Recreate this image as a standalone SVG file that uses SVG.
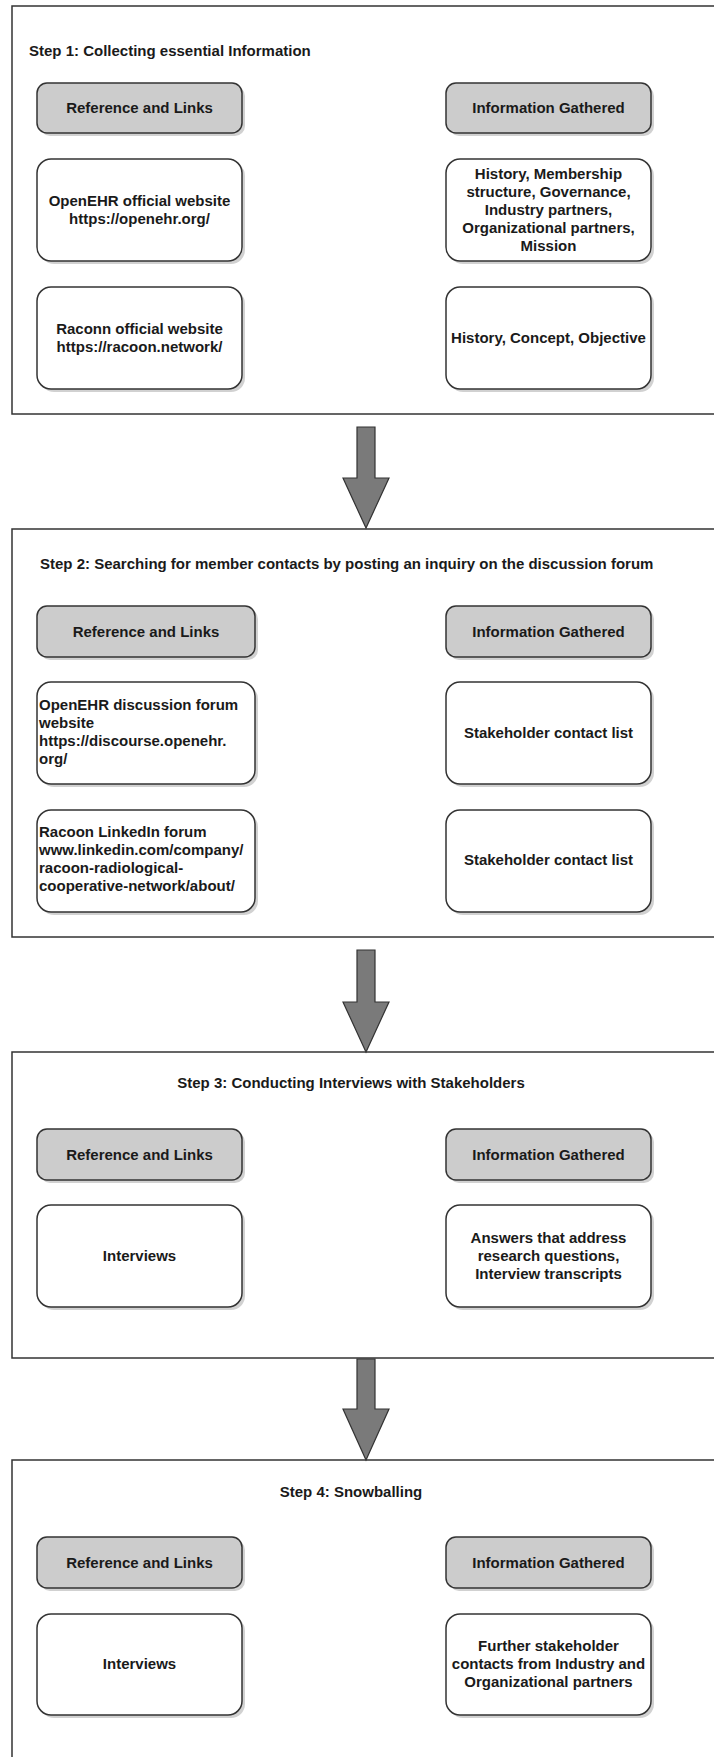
<svg xmlns="http://www.w3.org/2000/svg" width="714" height="1757" viewBox="0 0 714 1757">
<style>
text{font-family:"Liberation Sans",Arial,sans-serif;font-size:15px;font-weight:bold;fill:#1a1a1a}
.c{text-anchor:middle}
.step{fill:#fff;stroke:#333;stroke-width:1.5}
.hd{fill:#cccccc;stroke:#333;stroke-width:1.5}
.bx{fill:#fff;stroke:#333;stroke-width:1.5}
.sh{fill:#000;opacity:0.18}
.arr{fill:#7a7a7a;stroke:#333;stroke-width:1.2}
</style>
<rect width="714" height="1757" fill="#fff"/>

<g id="step1">
<rect class="step" x="12" y="6" width="720" height="408"/>
<text x="29" y="56">Step 1: Collecting essential Information</text>
</g>
<g id="s1-ref-header">
<rect class="sh" x="40" y="86" width="205" height="50" rx="10"/>
<rect class="hd" x="37" y="83" width="205" height="50" rx="10"/>
<text class="c" x="139.5" y="113">Reference and Links</text>
</g>
<g id="s1-info-header">
<rect class="sh" x="449" y="86" width="205" height="50" rx="10"/>
<rect class="hd" x="446" y="83" width="205" height="50" rx="10"/>
<text class="c" x="548.5" y="113">Information Gathered</text>
</g>
<g id="s1-ref-1">
<rect class="sh" x="40" y="162" width="205" height="102" rx="14"/>
<rect class="bx" x="37" y="159" width="205" height="102" rx="14"/>
<text class="c" x="139.5" y="206">OpenEHR official website</text>
<text class="c" x="139.5" y="224">https://openehr.org/</text>
</g>
<g id="s1-info-1">
<rect class="sh" x="449" y="162" width="205" height="102" rx="14"/>
<rect class="bx" x="446" y="159" width="205" height="102" rx="14"/>
<text class="c" x="548.5" y="179">History, Membership</text>
<text class="c" x="548.5" y="197">structure, Governance,</text>
<text class="c" x="548.5" y="215">Industry partners,</text>
<text class="c" x="548.5" y="233">Organizational partners,</text>
<text class="c" x="548.5" y="251">Mission</text>
</g>
<g id="s1-ref-2">
<rect class="sh" x="40" y="290" width="205" height="102" rx="14"/>
<rect class="bx" x="37" y="287" width="205" height="102" rx="14"/>
<text class="c" x="139.5" y="334">Raconn official website</text>
<text class="c" x="139.5" y="352">https://racoon.network/</text>
</g>
<g id="s1-info-2">
<rect class="sh" x="449" y="290" width="205" height="102" rx="14"/>
<rect class="bx" x="446" y="287" width="205" height="102" rx="14"/>
<text class="c" x="548.5" y="343">History, Concept, Objective</text>
</g>

<g id="step2">
<rect class="step" x="12" y="529" width="720" height="408"/>
<text x="40" y="569">Step 2: Searching for member contacts by posting an inquiry on the discussion forum</text>
</g>
<g id="s2-ref-header">
<rect class="sh" x="40" y="609" width="218" height="51" rx="10"/>
<rect class="hd" x="37" y="606" width="218" height="51" rx="10"/>
<text class="c" x="146" y="637">Reference and Links</text>
</g>
<g id="s2-info-header">
<rect class="sh" x="449" y="609" width="205" height="51" rx="10"/>
<rect class="hd" x="446" y="606" width="205" height="51" rx="10"/>
<text class="c" x="548.5" y="637">Information Gathered</text>
</g>
<g id="s2-ref-1">
<rect class="sh" x="40" y="685" width="218" height="102" rx="14"/>
<rect class="bx" x="37" y="682" width="218" height="102" rx="14"/>
<text x="39" y="710">OpenEHR discussion forum</text>
<text x="39" y="728">website</text>
<text x="39" y="746">https://discourse.openehr.</text>
<text x="39" y="764">org/</text>
</g>
<g id="s2-info-1">
<rect class="sh" x="449" y="685" width="205" height="102" rx="14"/>
<rect class="bx" x="446" y="682" width="205" height="102" rx="14"/>
<text class="c" x="548.5" y="738">Stakeholder contact list</text>
</g>
<g id="s2-ref-2">
<rect class="sh" x="40" y="813" width="218" height="102" rx="14"/>
<rect class="bx" x="37" y="810" width="218" height="102" rx="14"/>
<text x="39" y="837">Racoon LinkedIn forum</text>
<text x="39" y="855">www.linkedin.com/company/</text>
<text x="39" y="873">racoon-radiological-</text>
<text x="39" y="891">cooperative-network/about/</text>
</g>
<g id="s2-info-2">
<rect class="sh" x="449" y="813" width="205" height="102" rx="14"/>
<rect class="bx" x="446" y="810" width="205" height="102" rx="14"/>
<text class="c" x="548.5" y="865">Stakeholder contact list</text>
</g>

<g id="step3">
<rect class="step" x="12" y="1052" width="720" height="306"/>
<text class="c" x="351" y="1088">Step 3: Conducting Interviews with Stakeholders</text>
</g>
<g id="s3-ref-header">
<rect class="sh" x="40" y="1132" width="205" height="51" rx="10"/>
<rect class="hd" x="37" y="1129" width="205" height="51" rx="10"/>
<text class="c" x="139.5" y="1160">Reference and Links</text>
</g>
<g id="s3-info-header">
<rect class="sh" x="449" y="1132" width="205" height="51" rx="10"/>
<rect class="hd" x="446" y="1129" width="205" height="51" rx="10"/>
<text class="c" x="548.5" y="1160">Information Gathered</text>
</g>
<g id="s3-ref-1">
<rect class="sh" x="40" y="1208" width="205" height="102" rx="14"/>
<rect class="bx" x="37" y="1205" width="205" height="102" rx="14"/>
<text class="c" x="139.5" y="1261">Interviews</text>
</g>
<g id="s3-info-1">
<rect class="sh" x="449" y="1208" width="205" height="102" rx="14"/>
<rect class="bx" x="446" y="1205" width="205" height="102" rx="14"/>
<text class="c" x="548.5" y="1243">Answers that address</text>
<text class="c" x="548.5" y="1261">research questions,</text>
<text class="c" x="548.5" y="1279">Interview transcripts</text>
</g>

<g id="step4">
<rect class="step" x="12" y="1460" width="720" height="320"/>
<text class="c" x="351" y="1497">Step 4: Snowballing</text>
</g>
<g id="s4-ref-header">
<rect class="sh" x="40" y="1540" width="205" height="51" rx="10"/>
<rect class="hd" x="37" y="1537" width="205" height="51" rx="10"/>
<text class="c" x="139.5" y="1568">Reference and Links</text>
</g>
<g id="s4-info-header">
<rect class="sh" x="449" y="1540" width="205" height="51" rx="10"/>
<rect class="hd" x="446" y="1537" width="205" height="51" rx="10"/>
<text class="c" x="548.5" y="1568">Information Gathered</text>
</g>
<g id="s4-ref-1">
<rect class="sh" x="40" y="1617" width="205" height="101" rx="14"/>
<rect class="bx" x="37" y="1614" width="205" height="101" rx="14"/>
<text class="c" x="139.5" y="1669">Interviews</text>
</g>
<g id="s4-info-1">
<rect class="sh" x="449" y="1617" width="205" height="101" rx="14"/>
<rect class="bx" x="446" y="1614" width="205" height="101" rx="14"/>
<text class="c" x="548.5" y="1651">Further stakeholder</text>
<text class="c" x="548.5" y="1669">contacts from Industry and</text>
<text class="c" x="548.5" y="1687">Organizational partners</text>
</g>

<g id="connectors">
<path class="arr" d="M357,427 H375 V478 H389 L366,528 L343,478 H357 Z"/>
<path class="arr" d="M357,950 H375 V1002 H389 L366,1052 L343,1002 H357 Z"/>
<path class="arr" d="M357,1359 H375 V1409 H389 L366,1460 L343,1409 H357 Z"/>
</g>
</svg>
